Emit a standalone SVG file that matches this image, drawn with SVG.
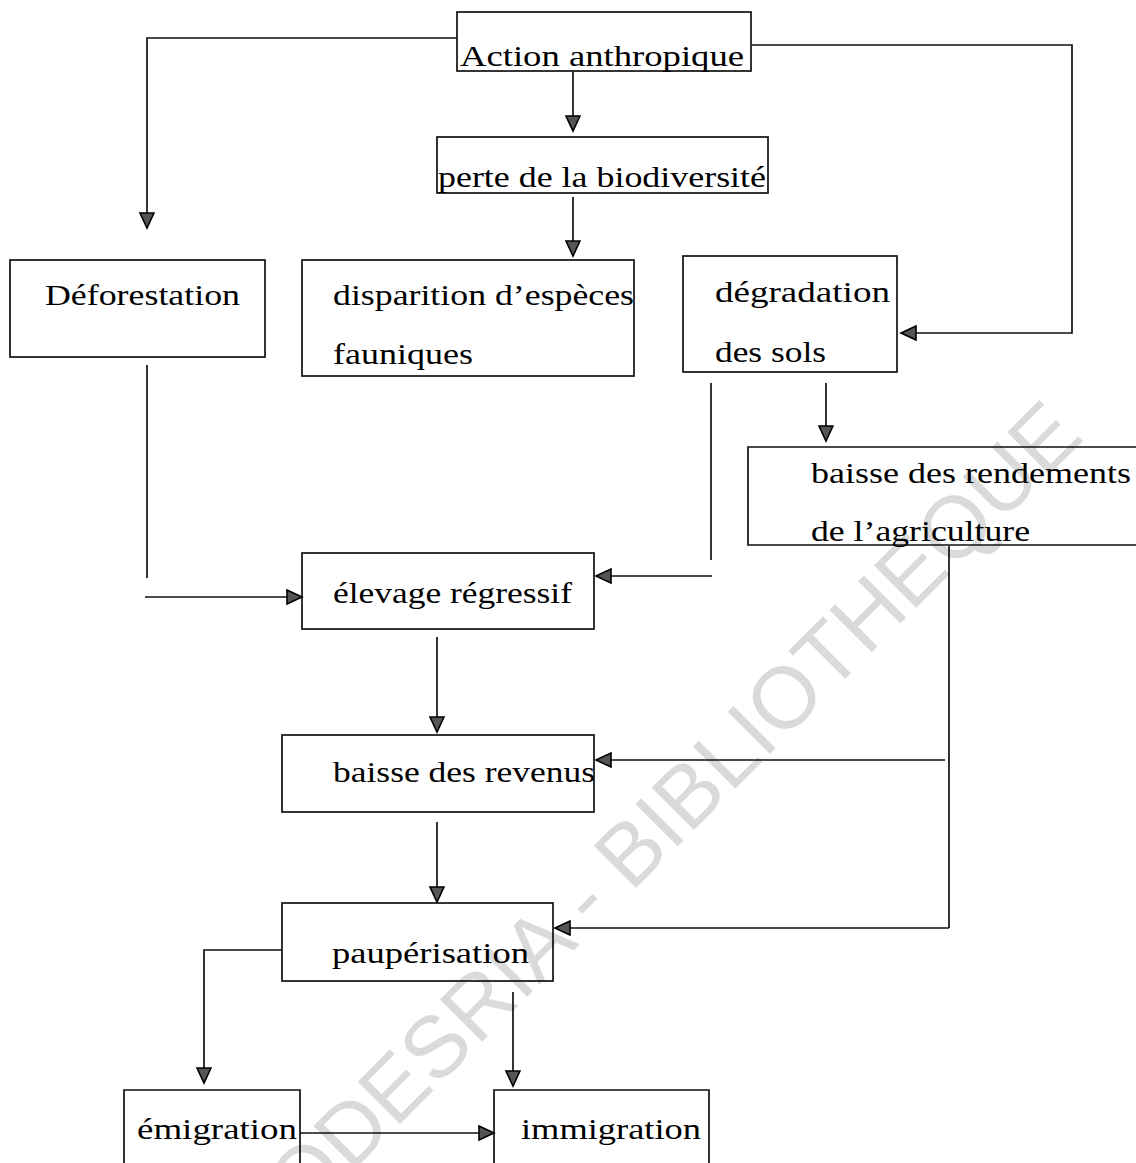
<svg xmlns="http://www.w3.org/2000/svg" width="1136" height="1163" viewBox="0 0 1136 1163">
<style>
.box{fill:none;stroke:#111;stroke-width:1.7}
.lbl{font-family:"Liberation Serif","DejaVu Serif",serif;font-size:30px;fill:#000}
.ln{fill:none;stroke:#111;stroke-width:1.7}
.wm{font-family:"Liberation Sans",Arial,sans-serif;font-size:87px;fill:#dadada}
</style>
<defs>
<marker id="ah" markerUnits="userSpaceOnUse" markerWidth="18" markerHeight="18" refX="16" refY="8" orient="auto" viewBox="0 0 18 18">
<path d="M1,1 L16,8 L1,15 z" fill="#555" stroke="#000" stroke-width="1.6" stroke-linejoin="miter"/>
</marker>
</defs>
<rect width="1136" height="1163" fill="#fff"/>
<text class="wm" transform="translate(672,852) rotate(-45)" text-anchor="middle">CODESRIA - BIBLIOTHEQUE</text>

<g id="connectors">
<path class="ln" d="M457,38 H147 V228" marker-end="url(#ah)"/>
<path class="ln" d="M573,72 V131" marker-end="url(#ah)"/>
<path class="ln" d="M752,45 H1072 V333 H901" marker-end="url(#ah)"/>
<path class="ln" d="M573,197 V256" marker-end="url(#ah)"/>
<path class="ln" d="M826,383 V441" marker-end="url(#ah)"/>
<path class="ln" d="M711,383 V560"/>
<path class="ln" d="M712,576 H596" marker-end="url(#ah)"/>
<path class="ln" d="M147,365 V578"/>
<path class="ln" d="M145,597 H302" marker-end="url(#ah)"/>
<path class="ln" d="M437,637 V732" marker-end="url(#ah)"/>
<path class="ln" d="M949,546 V928"/>
<path class="ln" d="M945,760 H596" marker-end="url(#ah)"/>
<path class="ln" d="M437,822 V902" marker-end="url(#ah)"/>
<path class="ln" d="M949,928 H555" marker-end="url(#ah)"/>
<path class="ln" d="M282,950 H204 V1083" marker-end="url(#ah)"/>
<path class="ln" d="M513,992 V1086" marker-end="url(#ah)"/>
<path class="ln" d="M300,1133 H494" marker-end="url(#ah)"/>
</g>

<g id="action">
<rect class="box" x="457" y="12" width="294" height="59"/>
<text class="lbl" x="460" y="66" textLength="284" lengthAdjust="spacingAndGlyphs">Action anthropique</text>
</g>
<g id="perte">
<rect class="box" x="437" y="137" width="331" height="56"/>
<text class="lbl" x="438" y="187" textLength="328" lengthAdjust="spacingAndGlyphs">perte de la biodiversité</text>
</g>
<g id="deforestation">
<rect class="box" x="10" y="260" width="255" height="97"/>
<text class="lbl" x="45" y="305" textLength="195" lengthAdjust="spacingAndGlyphs">Déforestation</text>
</g>
<g id="disparition">
<rect class="box" x="302" y="260" width="332" height="116"/>
<text class="lbl" x="333" y="305" textLength="301" lengthAdjust="spacingAndGlyphs">disparition d’espèces</text>
<text class="lbl" x="333" y="364" textLength="140" lengthAdjust="spacingAndGlyphs">fauniques</text>
</g>
<g id="degradation">
<rect class="box" x="683" y="256" width="214" height="116"/>
<text class="lbl" x="715" y="302" textLength="175" lengthAdjust="spacingAndGlyphs">dégradation</text>
<text class="lbl" x="715" y="362" textLength="111" lengthAdjust="spacingAndGlyphs">des sols</text>
</g>
<g id="rendements">
<path class="box" d="M1136,447 H748 V545 H1136"/>
<text class="lbl" x="811" y="483" textLength="320" lengthAdjust="spacingAndGlyphs">baisse des rendements</text>
<text class="lbl" x="811" y="541" textLength="219" lengthAdjust="spacingAndGlyphs">de l’agriculture</text>
</g>
<g id="elevage">
<rect class="box" x="302" y="553" width="292" height="76"/>
<text class="lbl" x="333" y="603" textLength="239" lengthAdjust="spacingAndGlyphs">élevage régressif</text>
</g>
<g id="revenus">
<rect class="box" x="282" y="735" width="312" height="77"/>
<text class="lbl" x="333" y="782" textLength="262" lengthAdjust="spacingAndGlyphs">baisse des revenus</text>
</g>
<g id="pauperisation">
<rect class="box" x="282" y="903" width="271" height="78"/>
<text class="lbl" x="332" y="963" textLength="197" lengthAdjust="spacingAndGlyphs">paupérisation</text>
</g>
<g id="emigration">
<path class="box" d="M124,1163 V1090 H300 V1163"/>
<text class="lbl" x="137" y="1139" textLength="160" lengthAdjust="spacingAndGlyphs">émigration</text>
</g>
<g id="immigration">
<path class="box" d="M494,1163 V1090 H709 V1163"/>
<text class="lbl" x="521" y="1139" textLength="180" lengthAdjust="spacingAndGlyphs">immigration</text>
</g>
</svg>
